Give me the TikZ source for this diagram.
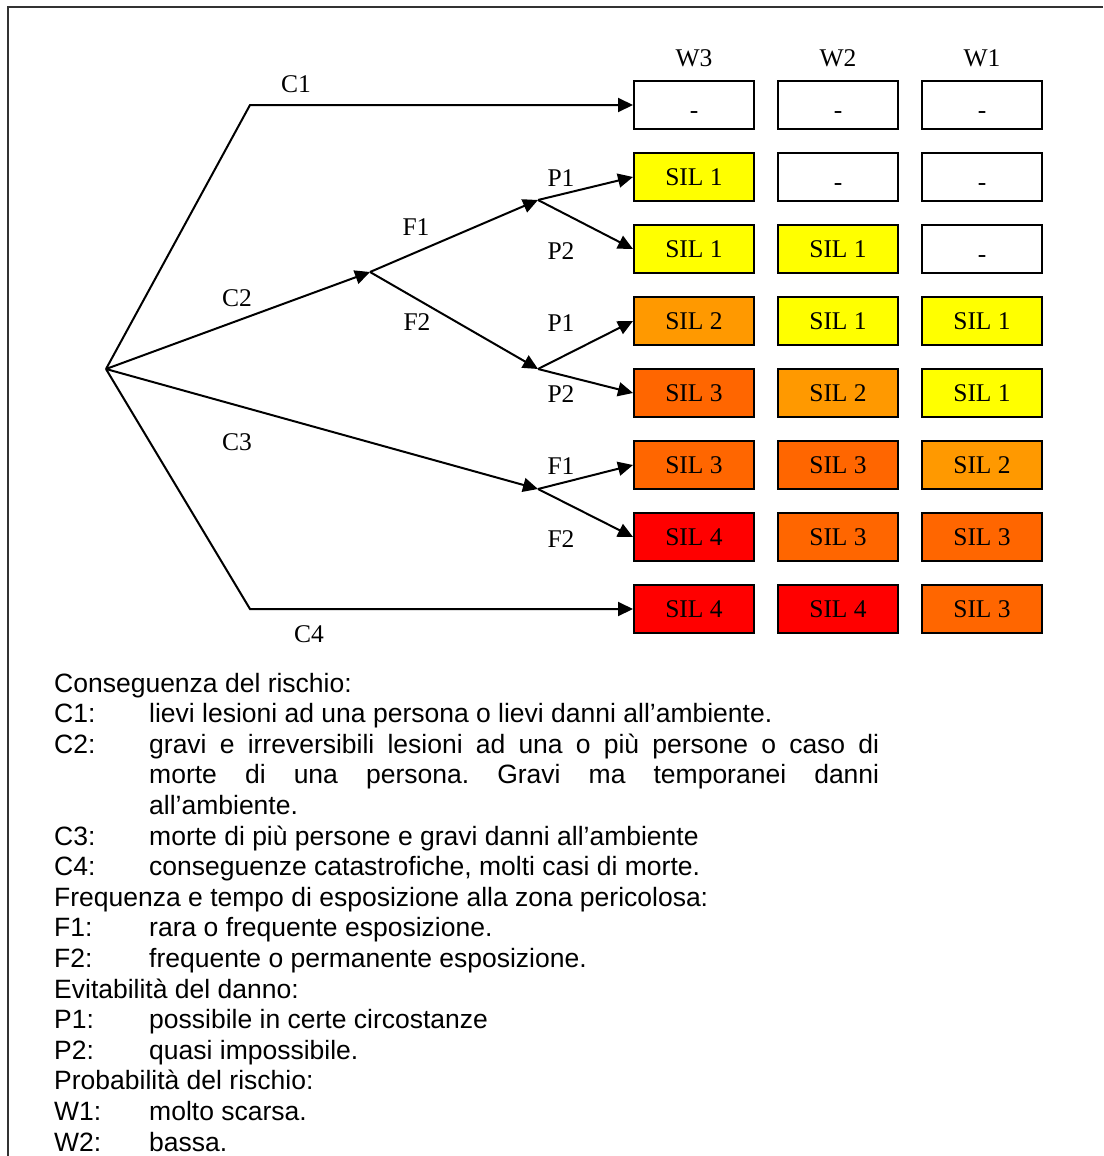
\documentclass[tikz,border=0pt]{standalone}
\usepackage{fontspec}
\setmainfont{Liberation Serif}
\newfontfamily\legendfont{Liberation Sans}
\usetikzlibrary{arrows.meta}
\frenchspacing

\definecolor{silyellow}{HTML}{FFFF00}
\definecolor{silamber}{HTML}{FF9900}
\definecolor{silorange}{HTML}{FF6600}
\definecolor{silred}{HTML}{FF0000}

% empty cell mark, set a little lower than the SIL texts
\newcommand\nocell{\raisebox{-5pt}{-}}

\begin{document}
\begin{tikzpicture}[x=1pt,y=-1pt,
  cell/.style={draw, line width=2pt, minimum width=120pt, minimum height=48pt,
    inner sep=0pt, text height=17pt, text depth=0pt, font=\fontsize{25.5}{30}\selectfont},
  lbl/.style={inner sep=0pt, font=\fontsize{25.5}{30}\selectfont},
  arr/.style={line width=2pt, -{Triangle[length=15pt,width=14pt]}},
  legend/.style={inner sep=0pt, anchor=base west, font=\legendfont\fontsize{26.5}{30.6}\selectfont},
]
\useasboundingbox (0,0) rectangle (1103,1156);

% outer frame (open towards right and bottom)
\draw[line width=2pt, black!80] (1103,7) -- (8,7) -- (8,1156);

% column headers
\node[lbl] (hw3) at (694,58) {W3};
\node[lbl] (hw2) at (838,58) {W2};
\node[lbl] (hw1) at (982,58) {W1};

% SIL matrix
\foreach \r/\ta/\fa/\tb/\fb/\tc/\fc in {
  1/\nocell/white/\nocell/white/\nocell/white,
  2/SIL 1/silyellow/\nocell/white/\nocell/white,
  3/SIL 1/silyellow/SIL 1/silyellow/\nocell/white,
  4/SIL 2/silamber/SIL 1/silyellow/SIL 1/silyellow,
  5/SIL 3/silorange/SIL 2/silamber/SIL 1/silyellow,
  6/SIL 3/silorange/SIL 3/silorange/SIL 2/silamber,
  7/SIL 4/silred/SIL 3/silorange/SIL 3/silorange,
  8/SIL 4/silred/SIL 4/silred/SIL 3/silorange}{
  \pgfmathsetmacro\yy{105+72*(\r-1)}
  \node[cell, fill=\fa] (w3-\r) at (694,\yy) {\ta};
  \node[cell, fill=\fb] (w2-\r) at (838,\yy) {\tb};
  \node[cell, fill=\fc] (w1-\r) at (982,\yy) {\tc};
}

% branching points of the risk graph
\coordinate (root) at (106,369);
\coordinate (k1) at (250,105);
\coordinate (k4) at (250,609);
\coordinate (fc2) at (370,272);
\coordinate (pf1) at (538,200);
\coordinate (pf2) at (538,369);
\coordinate (fc3) at (538,489);

% connectors
\draw[arr] (root) -- (k1) -- (w3-1.west);
\draw[arr] (root) -- (fc2);
\draw[arr] (root) -- (fc3);
\draw[arr] (root) -- (k4) -- (w3-8.west);
\draw[arr] (fc2) -- (pf1);
\draw[arr] (fc2) -- (pf2);
\draw[arr] (pf1) -- (w3-2.west);
\draw[arr] (pf1) -- (w3-3.west);
\draw[arr] (pf2) -- (w3-4.west);
\draw[arr] (pf2) -- (w3-5.west);
\draw[arr] (fc3) -- (w3-6.west);
\draw[arr] (fc3) -- (w3-7.west);

% branch labels
\node[lbl] (lc1) at (296,84) {C1};
\node[lbl] (lc2) at (237,298) {C2};
\node[lbl] (lc3) at (237,442) {C3};
\node[lbl] (lc4) at (309,634) {C4};
\node[lbl] (lf1a) at (416,227) {F1};
\node[lbl] (lf2a) at (417,322) {F2};
\node[lbl] (lp1a) at (561,178) {P1};
\node[lbl] (lp2a) at (561,251) {P2};
\node[lbl] (lp1b) at (561,323) {P1};
\node[lbl] (lp2b) at (561,394) {P2};
\node[lbl] (lf1b) at (561,466) {F1};
\node[lbl] (lf2b) at (561,539) {F2};

% legend
\node[legend] (g0) at (54,692) {Conseguenza del rischio:};
\node[legend] (g1k) at (54,722.6) {C1:};
\node[legend] (g1t) at (149,722.6) {lievi lesioni ad una persona o lievi danni all’ambiente.};
\node[legend] (g2k) at (54,753.2) {C2:};
\node[legend] (g2t) at (149,753.2) {\makebox[730pt][s]{gravi e irreversibili lesioni ad una o più persone o caso di}};
\node[legend] (g3t) at (149,783.8) {\makebox[730pt][s]{morte di una persona. Gravi ma temporanei danni}};
\node[legend] (g4t) at (149,814.4) {all’ambiente.};
\node[legend] (g5k) at (54,845) {C3:};
\node[legend] (g5t) at (149,845) {morte di più persone e gravi danni all’ambiente};
\node[legend] (g6k) at (54,875.6) {C4:};
\node[legend] (g6t) at (149,875.6) {conseguenze catastrofiche, molti casi di morte.};
\node[legend] (g7) at (54,906.2) {Frequenza e tempo di esposizione alla zona pericolosa:};
\node[legend] (g8k) at (54,936.8) {F1:};
\node[legend] (g8t) at (149,936.8) {rara o frequente esposizione.};
\node[legend] (g9k) at (54,967.4) {F2:};
\node[legend] (g9t) at (149,967.4) {frequente o permanente esposizione.};
\node[legend] (g10) at (54,998) {Evitabilità del danno:};
\node[legend] (g11k) at (54,1028.6) {P1:};
\node[legend] (g11t) at (149,1028.6) {possibile in certe circostanze};
\node[legend] (g12k) at (54,1059.2) {P2:};
\node[legend] (g12t) at (149,1059.2) {quasi impossibile.};
\node[legend] (g13) at (54,1089.8) {Probabilità del rischio:};
\node[legend] (g14k) at (54,1120.4) {W1:};
\node[legend] (g14t) at (149,1120.4) {molto scarsa.};
\node[legend] (g15k) at (54,1151) {W2:};
\node[legend] (g15t) at (149,1151) {bassa.};
\end{tikzpicture}
\end{document}
